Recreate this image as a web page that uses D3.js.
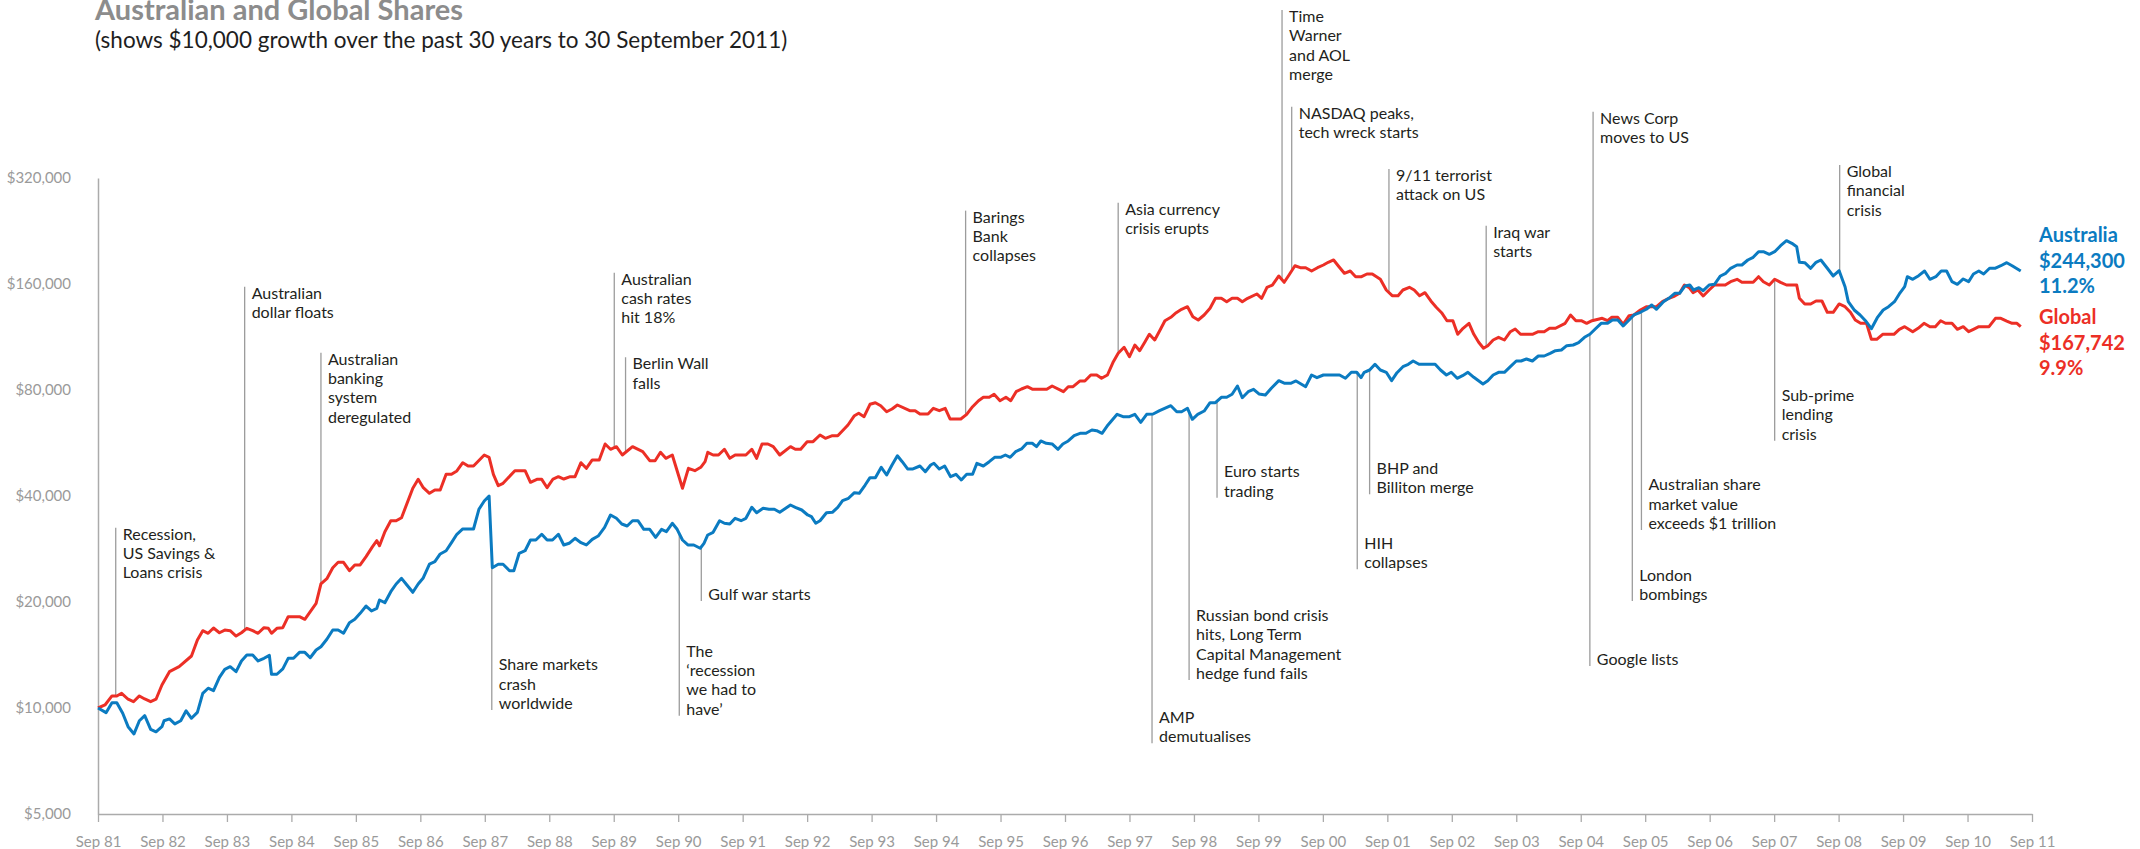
<!doctype html>
<html>
<head>
<meta charset="utf-8">
<script src="https://d3js.org/d3.v7.min.js"></script>
<style>
  body { margin: 0; background: #fff; }
  svg { display: block; font-family: Lato, "Open Sans", sans-serif; }
</style>
</head>
<body>
<svg width="2140" height="849"></svg>
<script>
// ---- data (months since Sep 1981, value of $10,000 invested) ----
var xTickLabels = ["Sep 81","Sep 82","Sep 83","Sep 84","Sep 85","Sep 86","Sep 87","Sep 88","Sep 89","Sep 90",
  "Sep 91","Sep 92","Sep 93","Sep 94","Sep 95","Sep 96","Sep 97","Sep 98","Sep 99","Sep 00",
  "Sep 01","Sep 02","Sep 03","Sep 04","Sep 05","Sep 06","Sep 07","Sep 08","Sep 09","Sep 10","Sep 11"];
var yTicks = [5000, 10000, 20000, 40000, 80000, 160000, 320000];

var australia = [
[0,10000],[1.5,9700],[2.6,10350],[3.5,10350],[4.6,9660],[5.6,8850],[6.7,8440],[7.7,9200],[8.7,9510],[9.8,8700],[10.8,8560],[11.9,8850],[12.3,9200],[13.3,9310],[14.3,9010],[15.4,9200],[16.4,9820],[17.4,9350],[18.5,9720],[19.5,11010],[20.5,11380],[21.5,11200],[22.6,12220],[23.6,12880],[24.6,13100],[25.7,12680],[26.7,13600],[27.7,14140],[28.8,14140],[29.8,13600],[30.9,13840],[31.9,14110],[32.3,12470],[33.3,12470],[34.4,12910],[35.4,13840],[36.4,13840],[37.5,14390],[38.5,14390],[39.5,13890],[40.6,14610],[41.5,14930],[42.6,15670],[43.7,16650],[44.7,16650],[45.7,16300],[46.8,17470],[47.8,17860],[48.8,18570],[49.9,19480],[50.9,18860],[51.9,19190],[52.4,20260],[53.4,19910],[54.5,21390],[55.5,22500],[56.5,23350],[57.5,22350],[58.6,21310],[59.6,22500],[60.5,23350],[61.7,25640],[62.7,26030],[63.7,27380],[64.8,27970],[65.8,29480],[66.8,31140],[67.9,32240],[69.9,32240],[70.9,36670],[71.9,38720],[72.8,40000],[73.4,25030],[74.5,25590],[75.4,25590],[76.6,24540],[77.4,24540],[78.4,27500],[79.5,27970],[80.5,30000],[81.5,30000],[82.6,31140],[83.6,30000],[84.6,30000],[85.7,31140],[86.7,29040],[87.7,29360],[88.8,30330],
[89.9,29480],[90.9,29040],[92.0,30130],[93.1,30790],[94.3,32600],[95.4,35330],[96.5,34570],[97.5,33310],[98.5,32880],[99.5,34030],[100.5,34030],[101.6,32170],[102.7,32170],[103.8,30530],[104.9,32170],[105.8,31670],[106.9,33460],[107.8,32170],[108.8,30000],[109.8,29040],[110.9,29040],[112.1,28420],[112.8,29360],[113.5,31000],[114.5,31550],[115.7,34030],[116.6,33460],[117.6,33310],[118.6,34570],[119.7,34030],[120.6,34570],[121.7,37150],[122.6,35860],[123.8,36910],[124.9,36670],[125.9,36670],[126.9,35960],[128.9,37710],[129.8,37150],[131.0,36500],[132.1,35330],[132.8,34940],[133.6,33460],[134.4,34030],[135.6,35860],[136.7,35960],[137.7,37150],[138.6,38790],[139.7,39410],[140.8,40870],[141.7,40700],[142.8,42980],[143.7,45090],[144.7,45090],[145.8,48260],[146.8,45890],[147.8,49000],[148.8,52060],[149.7,50060],[150.7,47730],[151.7,47730],[153.0,48670],[154.0,46890],[155.0,49000],[155.6,49540],[156.6,47730],[157.6,48670],[158.7,45380],[159.7,46100],[160.7,44410],[161.7,46100],[162.8,46100],[163.6,49540],[164.8,48670],[165.9,50060],[166.9,51520],[168.0,51520],[168.9,52300],[169.8,51520],[170.8,53440],[171.9,54400],[172.9,56470],[173.9,56470],[174.7,55230],[175.5,57320],[176.5,56470],[177.6,56210],[178.7,54290],[179.6,56210],[180.6,57320],[181.7,59340],[182.8,60280],[183.9,60280],[185.0,61590],
[185.9,61310],[186.9,60280],[188.0,63640],[189.7,68240],[190.8,67180],[192.0,67180],[193.0,68240],[194.1,64770],[195.2,68240],[196.4,68380],[197.6,69870],[199.7,72200],[200.8,69410],[201.7,69410],[202.8,70980],[203.7,66060],[204.7,68240],[205.9,69730],[207.0,73630],[208.0,73630],[209.1,76270],[210.1,76270],[211.1,77780],[212.1,82140],[213.0,76070],[214.1,79120],[215.1,80370],[216.1,77940],[217.3,77420],[218.4,80900],[219.8,85030],[220.9,83600],[222.0,83600],[223.0,84870],[224.8,81760],[225.9,88250],[226.9,86710],[228.1,88250],[231.1,88250],[232.2,86370],[233.3,89820],[234.3,89820],[235.1,86710],[235.7,89820],[236.7,91180],[237.7,94640],[238.7,91180],[239.8,89820],[240.8,85030],[241.8,89580],[242.9,93170],[243.9,94640],[244.8,96700],[245.9,94640],[248.9,94640],[249.9,91180],[251.0,88250],[251.9,89820],[253.0,86370],[254.0,87830],[255.0,89820],[256.1,86940],[257.8,83210],[258.7,85030],[259.7,88250],[260.7,89820],[261.8,89820],[262.9,93170],[264.0,96700],[264.9,96700],[265.9,97980],[267.0,96700],[268.1,99920],[269.2,99920],[270.3,101700],[271.3,103450],[272.4,103920],[273.4,106880],[274.6,107370],[275.6,109000],[276.7,112920],[277.7,115160],[278.7,119230],[279.8,123740],[281.0,123740],
[281.9,126450],[282.9,126450],[283.9,121580],[285.0,126450],[285.9,130650],[287.1,132980],[288.2,135620],[289.2,139490],[290.1,135620],[291.4,142530],[292.4,145730],[293.5,150580],[294.4,150580],[295.4,157910],[296.3,158950],[297.0,153840],[298.0,156170],[298.8,153140],[299.9,158950],[300.9,159700],[302.0,168620],[303.0,171590],[303.9,177310],[305.1,181170],[306.0,181170],[307.1,187200],[308.1,190540],[309.1,197640],[310.0,197640],[311.1,194310],[312.1,197640],[313.2,205530],[314.3,212370],[315.3,208800],[316.2,204190],[316.7,184390],[317.7,183900],[318.8,177310],[319.8,184390],[320.7,187200],[321.9,177310],[323.0,168620],[324.1,174550],[325.2,157180],[325.8,142530],[326.9,134990],[328.0,130650],[329.0,125850],[330.1,119460],[331.2,128370],[332.3,134990],[333.3,137940],[334.4,142530],[335.3,149890],[336.3,157180],[336.8,167850],[337.8,165010],[338.9,168950],[340.0,174190],[341.0,165010],[342.1,167850],[343.1,174190],[344.1,174190],[345.1,162440],[346.1,159700],[347.2,165350],[348.2,162440],[349.1,170810],[350.1,174190],[351.0,170810],[352.1,177310],[353.1,177310],[354.2,180310],[355.3,183900],[356.3,180310],[357.9,174190]
];

var global = [
[0,10000],[1.3,10200],[2.6,10820],[3.5,10820],[4.4,11010],[5.6,10590],[6.6,10420],[7.7,10820],[8.7,10610],[9.8,10420],[10.8,10590],[11.9,11620],[13.3,12680],[15.1,13100],[17.4,14050],[18.5,15600],[19.5,16580],[20.5,16300],[21.5,16870],[22.6,16360],[23.6,16650],[24.6,16580],[25.7,16010],[26.7,16360],[27.7,16840],[28.8,16580],[29.8,16300],[30.9,16910],[31.7,16840],[32.3,16300],[33.3,16840],[34.4,16910],[35.4,18170],[37.5,18170],[38.5,17860],[40.6,19830],[41.5,22500],[42.6,23290],[43.7,25030],[44.7,25930],[45.7,25930],[46.8,24540],[47.8,25480],[48.8,25480],[49.9,26900],[51.1,28720],[51.9,29860],[52.4,28900],[53.4,31670],[54.5,34030],[55.5,34030],[56.5,34710],[58.6,42070],[59.6,44610],[60.5,42340],[61.7,40710],[62.7,41600],[63.7,41600],[64.8,46100],[65.8,46100],[66.8,47110],[67.9,49730],[68.9,48670],[69.9,48670],[71.9,52300],[72.8,51520],[73.6,46100],[74.5,42790],[75.4,43460],[77.6,47200],[79.5,47200],[80.5,43750],[81.7,44610],[82.6,44610],[83.6,42230],[84.7,44700],[85.7,45380],[86.7,44700],[87.9,45380],[88.8,45380],
[89.9,49730],[90.9,47940],[92.0,50620],[93.3,50620],[94.4,56210],[95.4,54290],[96.5,55230],[97.6,52300],[99.5,55230],[101.4,53440],[102.7,50390],[103.7,50390],[104.7,53230],[105.7,51180],[106.9,52300],[108.8,42070],[109.9,47940],[111.1,47200],[112.2,48260],[113.0,50060],[113.5,53230],[114.5,52300],[115.5,52300],[116.6,54290],[117.6,51180],[118.6,52300],[120.6,52300],[121.7,54290],[122.6,51180],[123.6,56210],[124.7,56210],[125.7,55230],[126.9,52300],[128.9,55230],[129.8,54290],[130.8,54290],[132.0,57060],[133.1,57060],[134.4,59620],[135.4,58340],[136.7,59340],[137.7,59340],[139.6,63640],[140.8,67620],[141.6,68700],[142.6,67180],[143.7,72860],[144.7,73630],[145.7,72200],[146.8,69410],[147.8,70650],[148.8,72530],[151.1,69870],[152.1,69870],[153.0,68380],[154.5,68380],[155.5,70980],[156.6,69870],[157.7,70980],[158.6,66190],[160.6,66190],[161.7,68240],[162.8,71730],[163.9,74600],[164.8,76270],[165.9,76270],[166.8,77780],[167.9,74600],[169.0,76270],[169.9,74600],[170.9,79120],[171.9,80520],[173.0,81760],[174.0,80370],[176.6,80370],[177.6,82140],[179.7,79120],[180.6,81760],[181.5,81760],[182.8,84870],[183.7,84870],[184.8,88250],[185.9,88250],[186.8,86370],[187.9,88250],[189.0,96260],[189.9,101700],[191.0,105770],[192.0,99460],[193.0,107370],[193.9,103450],[194.9,109720],[195.7,115160],[196.7,110940],[197.7,118430],[198.6,125850],[199.7,128700],[200.7,132630],[201.7,135620],[202.8,137940],[203.8,129210],[204.8,126450],
[205.9,130650],[207.0,136520],[208.0,145730],[209.1,145730],[210.1,142530],[211.1,145730],[212.1,145730],[213.0,142530],[214.0,145730],[215.7,149890],[216.6,145730],[217.6,156580],[218.6,158950],[219.8,168620],[220.8,161800],[221.7,169720],[222.8,180310],[223.8,178010],[224.8,178010],[225.9,174190],[227.0,178010],[228.1,181170],[229.0,184390],[230.0,187200],[231.0,179170],[232.0,171590],[233.1,174190],[234.1,167850],[235.2,167850],[236.2,170810],[237.2,170810],[238.7,165010],[239.8,153840],[240.9,148230],[242.0,148230],[242.9,153840],[244.1,156580],[245.0,153840],[246.0,148230],[247.0,151170],[248.1,143180],[249.1,137390],[250.1,132630],[251.1,125850],[252.2,125850],[253.1,115160],[254.1,119770],[255.2,123740],[256.1,115160],[257.0,109290],[257.9,105080],[258.7,106880],[259.7,110940],[260.7,112920],[261.8,110940],[262.9,117120],[263.8,119230],[264.8,115160],[267.0,115160],[268.1,117120],[269.2,117120],[270.2,119770],[271.3,119770],[273.1,123740],[274.1,130650],[275.1,125850],[276.1,125850],[277.1,123740],[278.1,125850],[280.0,127860],[281.0,125850],
[281.8,128700],[282.9,128700],[283.9,122940],[285.0,130050],[285.9,130650],[287.1,134990],[288.2,137940],[289.2,137940],[290.1,137940],[291.2,142530],[292.4,145730],[293.5,147940],[294.4,150580],[295.3,158950],[296.2,156170],[296.9,151170],[297.8,153840],[298.8,147940],[299.9,153840],[300.9,158950],[302.9,158950],[303.9,162440],[305.1,165010],[306.0,161800],[308.1,161800],[309.1,167850],[310.0,162440],[311.1,158950],[312.1,165010],[313.2,161800],[314.3,158950],[316.2,158950],[316.7,145730],[317.7,140400],[318.8,140400],[319.8,143180],[320.9,143180],[321.9,132980],[323.0,132980],[324.1,140400],[325.2,137940],[326.2,132980],[327.1,126450],[328.1,123740],[329.2,123740],[330.1,111450],[331.1,111450],[332.2,115160],[334.3,115160],[335.3,118990],[336.3,121020],[337.8,117120],[338.8,119770],[339.9,123740],[341.0,121020],[342.0,121020],[343.0,125850],[343.9,123740],[345.1,123740],[346.1,118990],[347.2,121020],[348.2,117120],[349.1,118990],[350.1,121020],[352.0,121020],[353.2,127860],[354.2,127860],[355.3,125600],[356.3,123740],[357.2,123740],[357.9,121020]
];

// events: month of the event, label lines, whether the label sits above or below the lines,
// and the dollar level the leader line reaches
var events = [
  {month: 3.3,   dir: "up",   end: 32500,  text: ["Recession,", "US Savings &", "Loans crisis"]},
  {month: 27.3,  dir: "up",   end: 157200, text: ["Australian", "dollar floats"]},
  {month: 41.5,  dir: "up",   end: 102100, text: ["Australian", "banking", "system", "deregulated"]},
  {month: 73.3,  dir: "down", end: 9870,   text: ["Share markets", "crash", "worldwide"]},
  {month: 96.1,  dir: "up",   end: 172300, text: ["Australian", "cash rates", "hit 18%"]},
  {month: 98.2,  dir: "up",   end: 99100,  text: ["Berlin Wall", "falls"]},
  {month: 108.2, dir: "down", end: 9510,   text: ["The", "\u2018recession", "we had to", "have\u2019"]},
  {month: 112.3, dir: "down", end: 20130,  text: ["Gulf war starts"]},
  {month: 161.5, dir: "up",   end: 258500, text: ["Barings", "Bank", "collapses"]},
  {month: 189.9, dir: "up",   end: 272300, text: ["Asia currency", "crisis erupts"]},
  {month: 196.2, dir: "down", end: 7940,   text: ["AMP", "demutualises"]},
  {month: 203.1, dir: "down", end: 12010,  text: ["Russian bond crisis", "hits, Long Term", "Capital Management", "hedge fund fails"]},
  {month: 208.3, dir: "down", end: 39560,  text: ["Euro starts", "trading"]},
  {month: 220.4, dir: "up",   end: 960000, text: ["Time", "Warner", "and AOL", "merge"]},
  {month: 222.2, dir: "up",   end: 510000, text: ["NASDAQ peaks,", "tech wreck starts"]},
  {month: 234.4, dir: "down", end: 24770,  text: ["HIH", "collapses"]},
  {month: 236.7, dir: "down", end: 40450,  text: ["BHP and", "Billiton merge"]},
  {month: 240.3, dir: "up",   end: 339400, text: ["9/11 terrorist", "attack on US"]},
  {month: 258.4, dir: "up",   end: 234200, text: ["Iraq war", "starts"]},
  {month: 277.7, dir: "down", end: 13160,  text: ["Google lists"]},
  {month: 278.3, dir: "up",   end: 493500, text: ["News Corp", "moves to US"]},
  {month: 285.6, dir: "down", end: 20130,  text: ["London", "bombings"]},
  {month: 287.3, dir: "down", end: 32030,  text: ["Australian share", "market value", "exceeds $1 trillion"]},
  {month: 312.1, dir: "down", end: 57440,  text: ["Sub-prime", "lending", "crisis"]},
  {month: 324.2, dir: "up",   end: 348400, text: ["Global", "financial", "crisis"]}
];

var australiaLabel = ["Australia", "$244,300", "11.2%"];
var globalLabel = ["Global", "$167,742", "9.9%"];

// ---- chart ----
var blue = "#0b7bc1", red = "#ec2f26";
var svg = d3.select("svg");

var x = d3.scaleLinear().domain([0, 360]).range([98, 2032]);
var y = d3.scaleLog().base(2).domain([5000, 320000]).range([814, 178]);

// title (the original is clipped at the top edge too)
svg.append("text")
  .attr("x", 95).attr("y", 20)
  .style("font-size", "29px").style("font-weight", "bold")
  .style("fill", "#8c8c8c")
  .text("Australian and Global Shares");
svg.append("text")
  .attr("x", 95).attr("y", 48)
  .style("font-size", "22.5px")
  .style("fill", "#1e1e1e")
  .text("(shows $10,000 growth over the past 30 years to 30 September 2011)");

// axes
var xAxis = svg.append("g")
  .attr("transform", "translate(0," + y(5000) + ")")
  .call(d3.axisBottom(x)
    .tickValues(d3.range(0, 361, 12))
    .tickFormat(function(d, i) { return xTickLabels[i]; })
    .tickSize(8).tickSizeOuter(0).tickPadding(14));
xAxis.select(".domain").attr("stroke", "#ababab").attr("stroke-width", 1.5);
xAxis.selectAll(".tick line").attr("stroke", "#ababab").attr("stroke-width", 1.3);
xAxis.selectAll(".tick text").style("font-size", "15px").style("fill", "#9a9a9a").style("font-family", "Lato, sans-serif");

var yAxis = svg.append("g")
  .attr("transform", "translate(" + x(0) + ",0)")
  .call(d3.axisLeft(y)
    .tickValues(yTicks)
    .tickFormat(d3.format("$,"))
    .tickSize(0).tickSizeOuter(0).tickPadding(27));
yAxis.select(".domain").attr("stroke", "#ababab").attr("stroke-width", 1.5);
yAxis.selectAll(".tick text").style("font-size", "15px").style("fill", "#9a9a9a").style("font-family", "Lato, sans-serif");

// value of a series at a given month (log interpolation)
function valueAt(series, m) {
  var i = d3.bisector(function(d) { return d[0]; }).left(series, m);
  if (i <= 0) return series[0][1];
  if (i >= series.length) return series[series.length - 1][1];
  var a = series[i - 1], b = series[i];
  var t = (m - a[0]) / (b[0] - a[0]);
  return Math.exp(Math.log(a[1]) + t * (Math.log(b[1]) - Math.log(a[1])));
}

// event leader lines and labels
var lineGap = 19.3;
var ev = svg.append("g").attr("class", "events");
events.forEach(function(e) {
  var va = valueAt(australia, e.month), vg = valueAt(global, e.month);
  var start = e.dir === "up" ? Math.max(va, vg) : Math.min(va, vg);
  var px = x(e.month);
  ev.append("line")
    .attr("x1", px).attr("x2", px)
    .attr("y1", y(start)).attr("y2", y(e.end))
    .attr("stroke", "#9c9c9c").attr("stroke-width", 1.3);
  var first = e.dir === "up" ? y(e.end) + 12 : y(e.end) - 1 - (e.text.length - 1) * lineGap;
  var t = ev.append("text")
    .attr("x", px + 7)
    .style("font-size", "16px")
    .style("fill", "#231f20");
  e.text.forEach(function(s, i) {
    t.append("tspan").attr("x", px + 7).attr("y", first + i * lineGap).text(s);
  });
});

// series lines
var line = d3.line()
  .x(function(d) { return x(d[0]); })
  .y(function(d) { return y(d[1]); });

svg.append("path").datum(global)
  .attr("d", line).attr("fill", "none")
  .attr("stroke", red).attr("stroke-width", 3).attr("stroke-linejoin", "round");
svg.append("path").datum(australia)
  .attr("d", line).attr("fill", "none")
  .attr("stroke", blue).attr("stroke-width", 3).attr("stroke-linejoin", "round");

// end labels
function endLabel(lines, color, top) {
  var t = svg.append("text")
    .attr("x", 2039)
    .style("font-size", "20px").style("font-weight", "bold")
    .style("fill", color);
  lines.forEach(function(s, i) {
    t.append("tspan").attr("x", 2039).attr("y", top + i * 25.5).text(s);
  });
}
endLabel(australiaLabel, blue, 242);
endLabel(globalLabel, red, 324);
</script>
</body>
</html>
